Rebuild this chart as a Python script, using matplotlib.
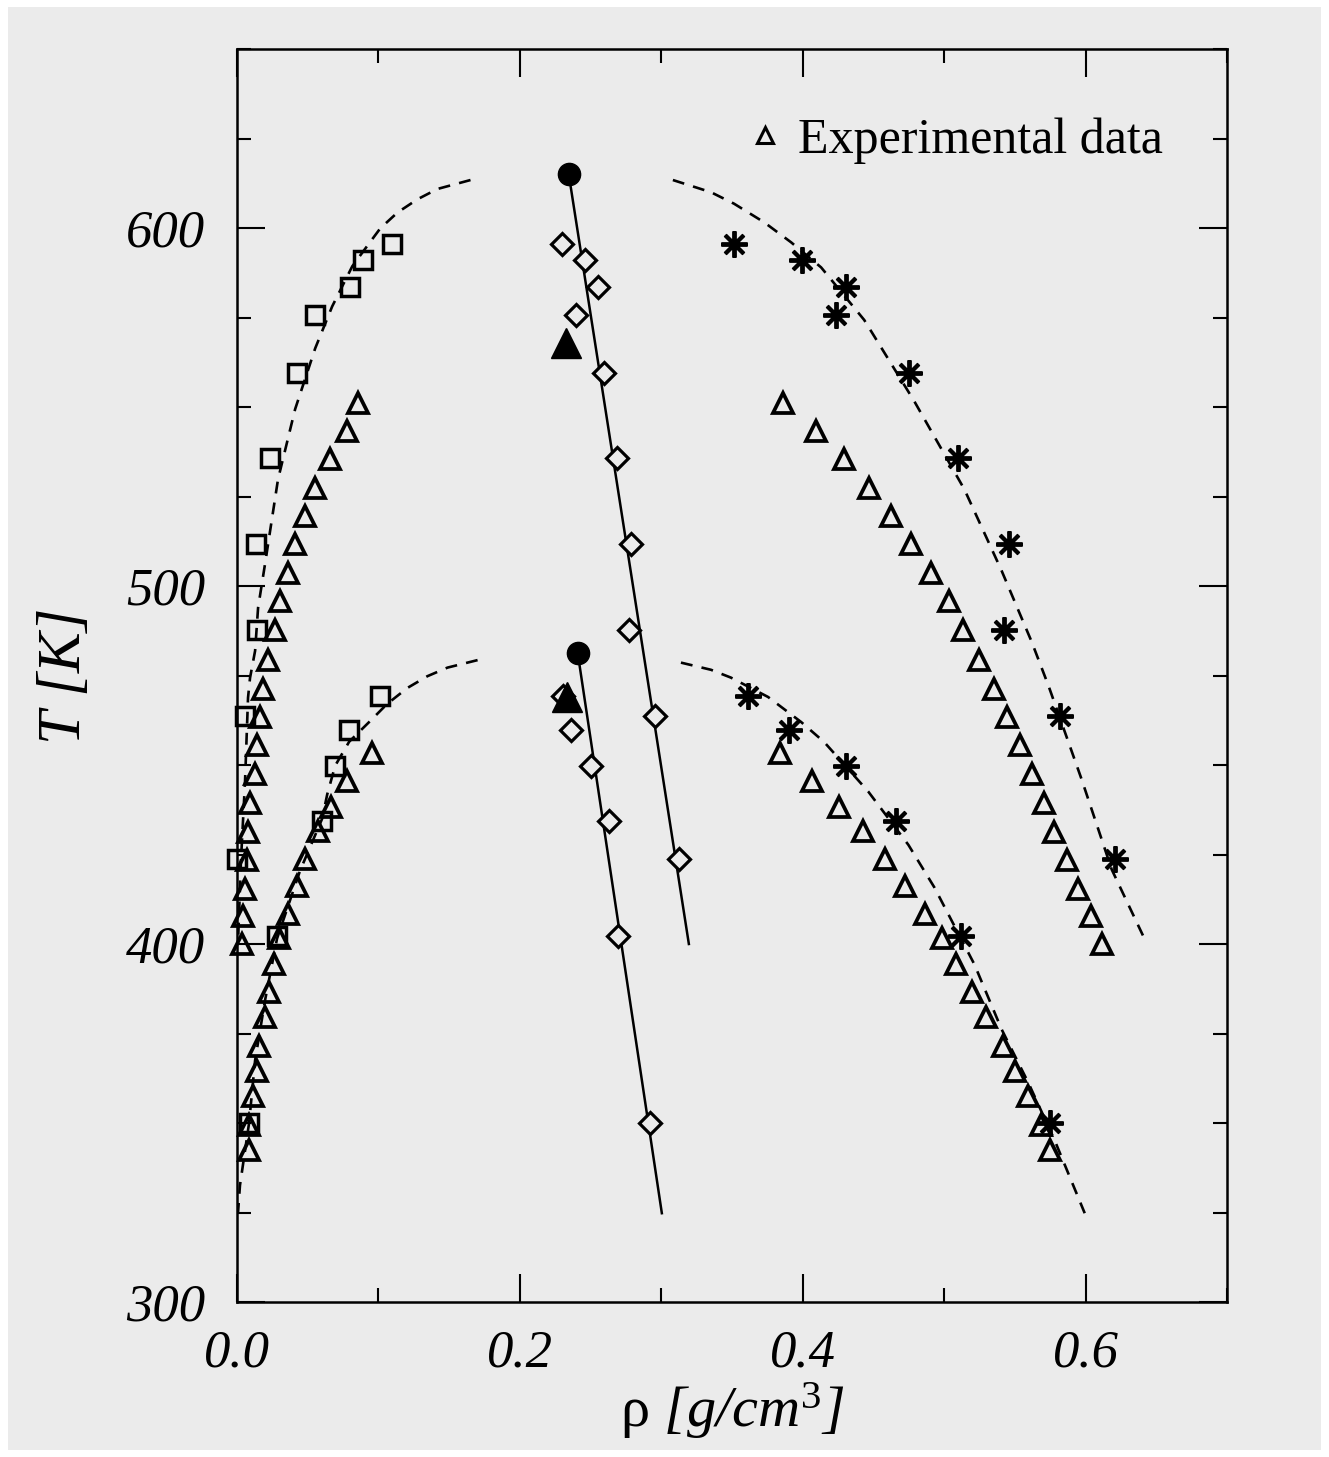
import matplotlib

matplotlib.use("Agg")
import matplotlib.pyplot as plt
from matplotlib.lines import Line2D
from matplotlib.patches import Rectangle
from matplotlib.ticker import MultipleLocator

plt.rcParams["font.family"] = ["Liberation Serif", "DejaVu Serif"]
plt.rcParams["mathtext.fontset"] = "custom"
plt.rcParams["mathtext.rm"] = "Liberation Serif"
plt.rcParams["mathtext.it"] = "Liberation Serif:italic"

# ---- simulation, upper system (Tc ~ 615 K) ----
T_up = [595.4, 591.2, 583.4, 575.6, 559.4, 535.7, 511.7, 487.7, 463.7, 423.7]
vap_up = [0.1098, 0.0893, 0.0801, 0.0553, 0.0425, 0.0234, 0.0135, 0.0142, 0.0057, 0.0000]
liq_up = [0.3514, 0.3996, 0.4307, 0.4237, 0.4754, 0.5101, 0.5462, 0.5420, 0.5817, 0.6206]
diam_up = [0.2295, 0.2458, 0.2551, 0.2395, 0.2593, 0.2685, 0.2784, 0.2770, 0.2954, 0.3124]

# ---- simulation, lower system (Tc ~ 481 K) ----
T_lo = [469.3, 459.8, 449.8, 434.4, 402.1, 349.9]
vap_lo = [0.1013, 0.0793, 0.0694, 0.0602, 0.0283, 0.0085]
liq_lo = [0.3613, 0.3904, 0.4307, 0.4662, 0.5122, 0.5746]
diam_lo = [0.2307, 0.2359, 0.2501, 0.2628, 0.2692, 0.2919]

# ---- experimental coexistence data ----
exp_up_T = [551.0, 543.2, 535.4, 527.3, 519.5, 511.7, 503.6, 495.7, 487.7, 479.4,
            471.3, 463.5, 455.6, 447.6, 439.5, 431.4, 423.6, 415.5, 407.7, 399.9]
exp_up_vap = [0.0857, 0.0779, 0.0659, 0.0553, 0.0482, 0.0411, 0.0361, 0.0305, 0.0269, 0.0220,
              0.0184, 0.0163, 0.0142, 0.0128, 0.0092, 0.0078, 0.0071, 0.0057, 0.0043, 0.0035]
exp_up_liq = [0.3861, 0.4095, 0.4293, 0.4470, 0.4626, 0.4768, 0.4910, 0.5037, 0.5136, 0.5243,
              0.5349, 0.5441, 0.5533, 0.5618, 0.5703, 0.5774, 0.5866, 0.5944, 0.6036, 0.6114]

exp_lo_T = [453.4, 445.5, 438.2, 431.5, 423.7, 416.2, 408.4, 401.7,
            394.4, 386.6, 379.6, 371.4, 364.4, 357.6, 349.4, 342.4]
exp_lo_vap = [0.0956, 0.0779, 0.0666, 0.0574, 0.0482, 0.0425, 0.0361, 0.0298,
              0.0262, 0.0227, 0.0198, 0.0156, 0.0142, 0.0113, 0.0085, 0.0085]
exp_lo_liq = [0.3840, 0.4067, 0.4258, 0.4428, 0.4584, 0.4725, 0.4867, 0.4988,
              0.5087, 0.5200, 0.5299, 0.5413, 0.5498, 0.5590, 0.5682, 0.5746]

# critical points: simulation (filled circles), experiment (filled triangles)
crit_sim_rho = [0.2345, 0.2409]
crit_sim_T = [615.2, 481.3]
crit_exp_rho = [0.2324, 0.2331]
crit_exp_T = [567.8, 469.0]

# rectilinear diameters (solid lines)
line_up_rho = [0.2345, 0.3195]
line_up_T = [615.2, 400.0]
line_lo_rho = [0.2409, 0.3004]
line_lo_T = [481.3, 324.8]

# fitted coexistence curves (dashed)
fit_up_vap_rho = [0.1651, 0.1417, 0.1275, 0.1134, 0.1013, 0.0921, 0.0815, 0.0673, 0.0553,
                  0.0411, 0.0290, 0.0198, 0.0149, 0.0128, 0.0092, 0.0078, 0.0057, 0.0028, 0.0007]
fit_up_vap_T = [613.4, 610.9, 608.0, 604.3, 599.9, 595.0, 589.3, 578.1, 566.4,
                549.4, 529.8, 506.1, 493.9, 481.9, 474.3, 468.8, 445.6, 423.3, 400.1]
fit_up_liq_rho = [0.3082, 0.3351, 0.3514, 0.3727, 0.3918, 0.4130, 0.4435, 0.4789,
                  0.5143, 0.5406, 0.5618, 0.5739, 0.5972, 0.6185, 0.6433]
fit_up_liq_T = [613.4, 610.0, 606.8, 601.6, 596.0, 589.0, 574.3, 551.6,
                527.0, 504.3, 484.5, 472.0, 446.0, 420.8, 400.1]
fit_lo_vap_rho = [0.1701, 0.1488, 0.1346, 0.1204, 0.1060, 0.0942, 0.0793, 0.0694, 0.0638,
                  0.0602, 0.0446, 0.0283, 0.0198, 0.0128, 0.0085, 0.0021, 0.0007]
fit_lo_vap_T = [479.3, 477.2, 474.8, 471.5, 467.0, 462.3, 456.5, 449.8, 441.8,
                435.0, 420.5, 401.5, 384.2, 367.5, 349.9, 332.6, 324.8]
fit_lo_liq_rho = [0.3139, 0.3351, 0.3493, 0.3755, 0.3989, 0.4152, 0.4463, 0.4747,
                  0.4931, 0.5214, 0.5406, 0.5597, 0.5781, 0.5994]
fit_lo_liq_T = [478.6, 476.6, 474.4, 469.0, 462.0, 456.4, 442.6, 427.7,
                415.8, 394.3, 376.2, 361.1, 345.2, 324.8]

BG = "#ebebeb"

fig = plt.figure(figsize=(13.29, 14.57), dpi=100, facecolor="white")
fig.patches.append(Rectangle((8 / 1329, 7 / 1457), 1313 / 1329, 1443 / 1457,
                             transform=fig.transFigure, facecolor=BG, edgecolor="none", zorder=-10))
ax = fig.add_axes([237 / 1329, 1 - 1302 / 1457, 990 / 1329, 1253 / 1457])
ax.set_facecolor(BG)

dash = dict(color="black", lw=1.9, ls=(0, (4.5, 3.5)))
for xs, ys in [(fit_up_vap_rho, fit_up_vap_T), (fit_up_liq_rho, fit_up_liq_T),
               (fit_lo_vap_rho, fit_lo_vap_T), (fit_lo_liq_rho, fit_lo_liq_T)]:
    ax.plot(xs, ys, **dash)

ax.plot(line_up_rho, line_up_T, color="black", lw=1.8)
ax.plot(line_lo_rho, line_lo_T, color="black", lw=1.8)

tri = dict(ls="none", marker="^", ms=15, mfc="none", mec="black", mew=2.7, clip_on=False)
for xs, ys in [(exp_up_vap, exp_up_T), (exp_up_liq, exp_up_T),
               (exp_lo_vap, exp_lo_T), (exp_lo_liq, exp_lo_T)]:
    ax.plot(xs, ys, **tri)

sq = dict(ls="none", marker="s", ms=13, mfc="none", mec="black", mew=2.5, clip_on=False)
ax.plot(vap_up, T_up, **sq)
ax.plot(vap_lo, T_lo, **sq)

star = dict(ls="none", marker=(8, 2, 0), ms=19, mec="black", mew=2.8, clip_on=False)
ax.plot(liq_up, T_up, **star)
ax.plot(liq_lo, T_lo, **star)

dia = dict(ls="none", marker="D", ms=11, mfc=BG, mec="black", mew=2.3, clip_on=False)
ax.plot(diam_up, T_up, **dia)
ax.plot(diam_lo, T_lo, **dia)

ax.plot(crit_sim_rho, crit_sim_T, ls="none", marker="o", ms=16, color="black")
ax.plot(crit_exp_rho, crit_exp_T, ls="none", marker="^", ms=22, color="black")

ax.set_xlim(0, 0.7)
ax.set_ylim(300, 650)
ax.xaxis.set_minor_locator(MultipleLocator(0.1))
ax.yaxis.set_minor_locator(MultipleLocator(25))
ax.set_xticks([0, 0.2, 0.4, 0.6])
ax.set_xticklabels(["0.0", "0.2", "0.4", "0.6"])
ax.set_yticks([300, 400, 500, 600])
ax.set_yticklabels(["300", "400", "500", "600"])
ax.tick_params(which="both", direction="in", top=True, right=True, width=1.5)
ax.tick_params(which="major", length=20)
ax.tick_params(which="minor", length=10)
ax.tick_params(axis="x", which="major", pad=20)
ax.tick_params(axis="y", which="major", pad=23)
for lab in ax.get_xticklabels() + ax.get_yticklabels():
    lab.set_fontsize(38)
    lab.set_fontstyle("italic")
for sp in ax.spines.values():
    sp.set_linewidth(1.8)

ax.set_xlabel(r"$\mathrm{\rho}$ [g/cm$^{3}$]", fontsize=42, fontstyle="italic", labelpad=2)
ax.set_ylabel("T [K]", fontsize=44, fontstyle="italic", labelpad=24)

handle = Line2D([], [], ls="none", marker="^", ms=11, mfc="none", mec="black", mew=2.2)
ax.legend([handle], ["Experimental data"], loc="center right",
          bbox_to_anchor=(0.935, 0.927), frameon=False, fontsize=36,
          handlelength=0.6, handletextpad=0.35, borderpad=0, borderaxespad=0)

fig.savefig("out.png", dpi=100, facecolor="white")
